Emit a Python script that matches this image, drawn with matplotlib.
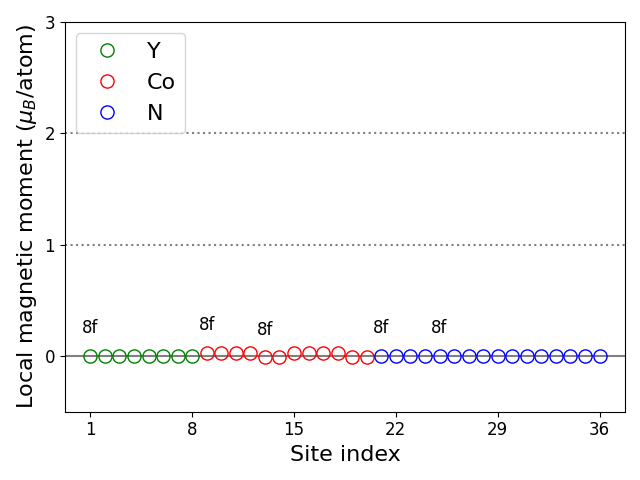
import matplotlib
matplotlib.use("Agg")
import matplotlib.pyplot as plt
import numpy as np

y_sites = list(range(1, 9))
y_vals = [0.0]*8
co_sites = list(range(9, 21))
co_vals = [0.027, 0.027, 0.027, 0.027, -0.012, -0.012, 0.027, 0.027, 0.027, 0.027, -0.012, -0.012]
n_sites = list(range(21, 37))
n_vals = [0.0]*16

label_sites = [1, 9, 13, 21, 25]
label_vals = [0.0, 0.027, -0.012, 0.0, 0.0]
label_text = ["8f"]*5

xticks = [1, 8, 15, 22, 29, 36]

fig, ax = plt.subplots(figsize=(6.4, 4.8), dpi=100)
ax.axhline(0, color='grey', lw=1.5, zorder=1)
ax.axhline(1, color='grey', ls=':', lw=1.5)
ax.axhline(2, color='grey', ls=':', lw=1.5)
ax.plot(y_sites, y_vals, 'o', mfc='none', mec='green', ms=9.5, label='Y')
ax.plot(co_sites, co_vals, 'o', mfc='none', mec='red', ms=9.5, label='Co')
ax.plot(n_sites, n_vals, 'o', mfc='none', mec='blue', ms=9.5, label='N')
for s, v, t in zip(label_sites, label_vals, label_text):
    ax.text(s, v + 0.25, t, ha='center', va='center', fontsize=12)
ax.set_ylim(-0.5, 3)
ax.set_yticks([0, 1, 2, 3])
ax.set_xticks(xticks)
ax.tick_params(labelsize=12)
ax.set_xlabel('Site index', fontsize=16)
ax.set_ylabel(r'Local magnetic moment ($\mu_B$/atom)', fontsize=16)
ax.legend(loc='upper left', fontsize=16)
fig.tight_layout()
fig.savefig('out.png')
